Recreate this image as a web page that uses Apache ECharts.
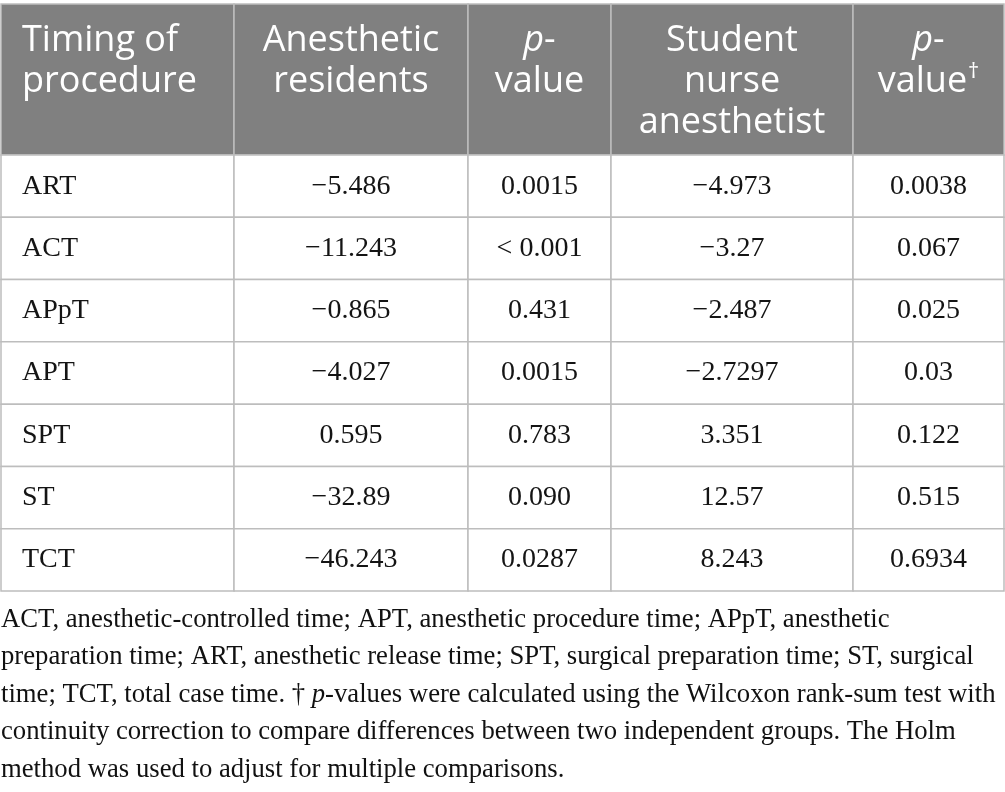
<!DOCTYPE html>
<html>
<head>
<meta charset="utf-8">
<script src="https://cdn.jsdelivr.net/npm/echarts@6/dist/echarts.min.js"></script>
<style>
  html, body { margin: 0; padding: 0; background: #fff; }
  #table_chart { width: 1005px; height: 792px; }
</style>
</head>
<body>
<div id="table_chart"></div>
<script>
// column headers ({i|} = italic, {s|} = superscript)
var headers = [
    'Timing of\nprocedure',
    'Anesthetic\nresidents',
    '{i|p}-\nvalue',
    'Student\nnurse\nanesthetist',
    '{i|p}-\nvalue{s|†}'
];
var procedures = ['ART', 'ACT', 'APpT', 'APT', 'SPT', 'ST', 'TCT'];
var residents = ['−5.486', '−11.243', '−0.865', '−4.027', '0.595', '−32.89', '−46.243'];
var residentsP = ['0.0015', '< 0.001', '0.431', '0.0015', '0.783', '0.090', '0.0287'];
var nurses = ['−4.973', '−3.27', '−2.487', '−2.7297', '3.351', '12.57', '8.243'];
var nursesP = ['0.0038', '0.067', '0.025', '0.03', '0.122', '0.515', '0.6934'];

var footnote = [
    'ACT, anesthetic-controlled time; APT, anesthetic procedure time; APpT, anesthetic',
    'preparation time; ART, anesthetic release time; SPT, surgical preparation time; ST, surgical',
    'time; TCT, total case time. † {i|p}-values were calculated using the Wilcoxon rank-sum test with',
    'continuity correction to compare differences between two independent groups. The Holm',
    'method was used to adjust for multiple comparisons.'
];

// layout (axis units)
var colEdges = [1, 234, 468, 611, 853, 1004];
var headH = 151, rowH = 62.28;
var columns = [procedures, residents, residentsP, nurses, nursesP];

function rowTop(r) { return r === 0 ? 0 : headH + (r - 1) * rowH; }
function rowBottom(r) { return r === 0 ? headH : headH + r * rowH; }

var cells = [];
for (var r = 0; r <= procedures.length; r++) {
    for (var c = 0; c < columns.length; c++) {
        cells.push([c, r]);
    }
}

var sans = '"Open Sans", "Noto Sans", sans-serif';
var serif = '"Liberation Serif", "DejaVu Serif", serif';

function renderCell(params, api) {
    var c = api.value(0), r = api.value(1);
    var p0 = api.coord([colEdges[c], rowTop(r)]);
    var p1 = api.coord([colEdges[c + 1], rowBottom(r)]);
    var isHead = r === 0;
    var rect = {
        type: 'rect',
        shape: { x: p0[0], y: p0[1], width: p1[0] - p0[0], height: p1[1] - p0[1] },
        style: { fill: isHead ? '#808080' : '#fff', stroke: '#bdbdbd', lineWidth: 1.5 }
    };
    var left = c === 0;
    var tx = left ? p0[0] + 21 : (p0[0] + p1[0]) / 2;
    var text;
    if (isHead) {
        text = {
            type: 'text',
            x: tx, y: p0[1] + 16,
            style: {
                text: headers[c], fill: '#fff',
                fontSize: 36, fontFamily: sans, lineHeight: 41,
                align: left ? 'left' : 'center', verticalAlign: 'top',
                rich: {
                    i: { fontSize: 36, fontFamily: sans, fontStyle: 'italic', lineHeight: 41, fill: '#fff' },
                    s: { fontSize: 22, fontFamily: sans, lineHeight: 41, verticalAlign: 'top', fill: '#fff', padding: [0, 0, 6, 1] }
                }
            }
        };
    } else {
        text = {
            type: 'text',
            x: tx, y: (p0[1] + p1[1]) / 2,
            style: {
                text: columns[c][r - 1], fill: '#141414',
                fontSize: 28, fontFamily: serif,
                align: left ? 'left' : 'center', verticalAlign: 'middle'
            }
        };
    }
    return { type: 'group', children: [rect, text] };
}

var chart = echarts.init(document.getElementById('table_chart'));
var option = {
    animation: false,
    grid: { left: 0, right: 0, top: 4, height: 587 },
    xAxis: { type: 'value', min: 0, max: 1005, show: false },
    yAxis: { type: 'value', min: 0, max: headH + procedures.length * rowH, inverse: true, show: false },
    series: [{
        type: 'custom',
        renderItem: renderCell,
        data: cells,
        clip: false
    }],
    graphic: [{
        type: 'text',
        left: 1,
        top: 601,
        style: {
            text: footnote.join('\n'),
            fill: '#111',
            fontSize: 26.7, fontFamily: serif, lineHeight: 37.5,
            rich: {
                i: { fontSize: 26.7, fontFamily: serif, fontStyle: 'italic', lineHeight: 37.5, fill: '#111' }
            }
        }
    }]
};
chart.setOption(option);
</script>
</body>
</html>
